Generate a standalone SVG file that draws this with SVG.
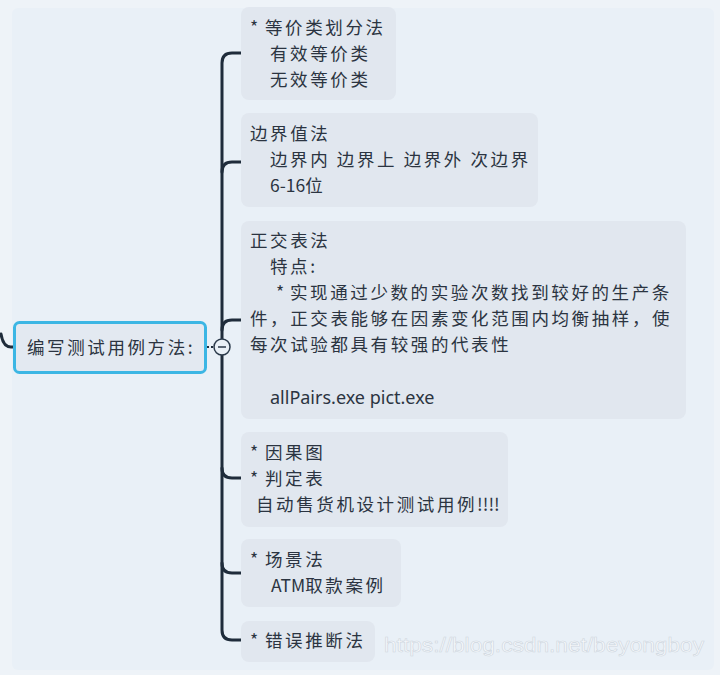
<svg xmlns="http://www.w3.org/2000/svg" width="720" height="675" viewBox="0 0 720 675">
<style>
.box{fill:#e1e7ef;}
.t{font-family:"Noto Sans CJK SC","Noto Sans",sans-serif;font-size:17.5px;letter-spacing:2.6px;fill:#2b3441;}
.n{letter-spacing:0;}
.lat{font-family:"Noto Sans","Noto Sans CJK SC",sans-serif;font-size:18px;fill:#2b3441;}
.con{fill:none;stroke:#1f2c3b;stroke-width:3;stroke-linecap:round;}
</style>
<rect x="0" y="0" width="720" height="675" fill="#eef3f8"/>
<rect x="12" y="8" width="702" height="662" rx="6" fill="#e9f0f7"/>
<g id="connectors">
<path class="con" d="M1,334 Q3,347 11,347 H14"/>
<path d="M207,347 H213" stroke="#1f2c3b" stroke-width="2" stroke-dasharray="2 2"/>
<path class="con" d="M241,53 H232 Q222,53 222,63 V630 Q222,640 232,640 H241"/>
<path class="con" d="M222,172 Q222,162 232,162 H241"/>
<path class="con" d="M222,330 Q222,320 232,320 H241"/>
<path class="con" d="M222,468 Q222,478 232,478 H241"/>
<path class="con" d="M222,563 Q222,573 232,573 H241"/>
</g>
<g id="root">
<rect x="14.5" y="322.5" width="191" height="50" rx="5" fill="#e3e9f1" stroke="#3cb6e4" stroke-width="3"/>
<text class="t" x="27" y="354">编写测试用例方法:</text>
</g>
<g id="collapse">
<circle cx="222" cy="347" r="8" fill="#e9f0f7" stroke="#2b3a4b" stroke-width="1.5"/>
<path d="M218,347 H226" stroke="#2b3a4b" stroke-width="1.5"/>
</g>
<g id="n1">
<rect class="box" x="241" y="7" width="155" height="93" rx="8"/>
<text class="t" x="250" y="34"><tspan class="n">*</tspan><tspan x="265">等价类划分法</tspan></text>
<text class="t" x="270" y="60">有效等价类</text>
<text class="t" x="270" y="86">无效等价类</text>
</g>
<g id="n2">
<rect class="box" x="241" y="113" width="297" height="94" rx="8"/>
<text class="t" x="250" y="140">边界值法</text>
<text class="t" x="270" y="166">边界内 边界上 边界外 次边界</text>
<text class="t" x="270" y="192"><tspan class="n">6-16</tspan>位</text>
</g>
<g id="n3">
<rect class="box" x="241" y="221" width="445" height="198" rx="8"/>
<text class="t" x="250" y="247">正交表法</text>
<text class="t" x="270" y="273">特点:</text>
<text class="t" x="276" y="299"><tspan class="n">*</tspan><tspan x="290">实现通过少数的实验次数找到较好的生产条</tspan></text>
<text class="t" x="250" y="325">件，正交表能够在因素变化范围内均衡抽样，使</text>
<text class="t" x="250" y="351">每次试验都具有较强的代表性</text>
<text class="lat" x="270" y="404">allPairs.exe pict.exe</text>
</g>
<g id="n4">
<rect class="box" x="241" y="432" width="267" height="95" rx="8"/>
<text class="t" x="250" y="459"><tspan class="n">*</tspan><tspan x="265">因果图</tspan></text>
<text class="t" x="250" y="485"><tspan class="n">*</tspan><tspan x="265">判定表</tspan></text>
<text class="t" x="256" y="511">自动售货机设计测试用例<tspan class="n">!!!!</tspan></text>
</g>
<g id="n5">
<rect class="box" x="241" y="539" width="160" height="68" rx="8"/>
<text class="t" x="250" y="566"><tspan class="n">*</tspan><tspan x="265">场景法</tspan></text>
<text class="t" x="271" y="592"><tspan class="n">ATM</tspan>取款案例</text>
</g>
<g id="n6">
<rect class="box" x="241" y="621" width="134" height="41" rx="8"/>
<text class="t" x="250" y="647"><tspan class="n">*</tspan><tspan x="265">错误推断法</tspan></text>
</g>
<text x="384" y="652" font-family="Liberation Sans, sans-serif" font-size="20" fill="#f7f9fc" stroke="#cfd7e0" stroke-width="0.6" textLength="320" lengthAdjust="spacingAndGlyphs">https://blog.csdn.net/beyongboy</text>
</svg>
